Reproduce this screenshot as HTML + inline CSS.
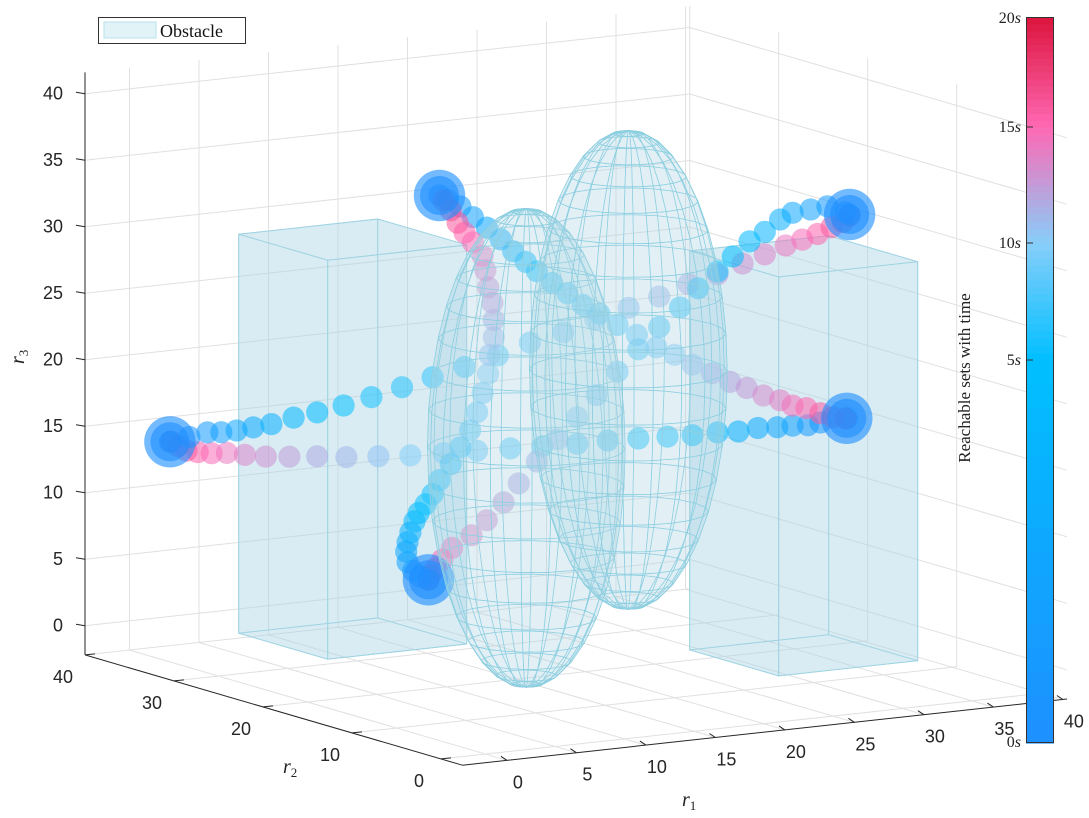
<!DOCTYPE html>
<html><head><meta charset="utf-8"><style>
html,body{margin:0;padding:0;background:#fff;}
svg{display:block;font-family:"Liberation Sans",sans-serif;}
</style></head><body>
<svg id="chart" width="1089" height="818" viewBox="0 0 1089 818" xmlns="http://www.w3.org/2000/svg">
<rect x="0" y="0" width="1089" height="818" fill="#ffffff"/>
<g id="grid"></g>
<g id="boxes"></g>
<g id="dots"></g>
<g id="ells"></g>
<g id="axes"></g>
<g>
<rect x="98.5" y="17.5" width="147" height="26" fill="#fff" stroke="#333" stroke-width="1"/>
<rect x="104" y="22" width="52" height="16" fill="#e2f3f7" stroke="#b5e0ea" stroke-width="1"/>
<text x="160" y="37" font-family="Liberation Serif, serif" font-size="18" fill="#111">Obstacle</text>
</g>
<g id="cbar"></g>
<text x="970" y="378" transform="rotate(-90 970 378)" text-anchor="middle" font-family="Liberation Serif, serif" font-size="17" fill="#222">Reachable sets with time</text>
<text x="682" y="806" font-family="Liberation Serif, serif" font-style="italic" font-size="20" fill="#222">r<tspan font-style="normal" font-size="13" dy="4">1</tspan></text>
<text x="283" y="773" font-family="Liberation Serif, serif" font-style="italic" font-size="20" fill="#222">r<tspan font-style="normal" font-size="13" dy="4">2</tspan></text>
<text x="24" y="364" transform="rotate(-90 24 364)" font-family="Liberation Serif, serif" font-style="italic" font-size="20" fill="#222">r<tspan font-style="normal" font-size="13" dy="4">3</tspan></text>
</svg>
<script>
// ---------- data ----------
const r1Ticks = [0,5,10,15,20,25,30,35,40];
const r2Ticks = [0,10,20,30,40];
const r3Ticks = [0,5,10,15,20,25,30,35,40];
const r1Lim = [-3.2, 40.3];
const r2Lim = [-2.4, 40];
const r3Lim = [-2.2, 41.6];
const cbarTicks = [0,5,10,15,20];
const cbarTickLabels = ['0','5','10','15','20'];
const timeColorStops = [[30,144,255],[0,191,255],[135,206,250],[255,105,180],[220,20,60]];
const trajectoryTimeSpan = [0, 17];

const box1R1 = [3.5, 13.5], box1R2 = [23.2, 33.2], box1R3 = [0, 30];
const box2R1 = [24.1, 34.1], box2R2 = [4.7, 14.7], box2R3 = [0, 30];
const ell1Center = [16, 20.4, 15], ell1Radii = [6, 6, 18];
const ell2Center = [23.4, 20.5, 20], ell2Radii = [6, 6, 18];

const agentDepthR2 = [20, 20, 20, 20, 20];
const startSetRadius = [1.85, 1.4];
const setRadius = 0.8;

const a1R1 = [38.8,36.9,36.0,34.9,33.8,32.4,31.0,29.5,27.7,25.9,23.8,21.6,19.4,16.9,14.6,12.2,9.8,7.4,5.1,2.8,0.7,-1.3,-3.0,-4.5,-5.8,-6.9,-7.9,-8.7,-9.3,-9.8];
const a1R3 = [14.7,14.6,14.5,14.6,14.6,14.7,14.6,14.7,14.7,14.8,14.9,15.0,15.0,15.1,15.2,15.3,15.4,15.5,15.7,15.9,16.2,16.4,16.6,16.9,17.2,17.3,17.5,17.7,18.1,18.5];
const a2R1 = [-9.9,-8.5,-7.2,-6.2,-5.1,-3.9,-2.6,-1.0,0.7,2.6,4.6,6.8,9.0,11.3,13.7,16.0,18.4,20.7,23.1,25.3,27.4,29.5,31.3,32.9,34.4,35.6,36.7,37.7,38.5,39.0];
const a2R3 = [18.5,18.7,18.9,18.8,18.8,18.9,19.0,19.3,19.5,19.8,20.2,20.7,21.2,21.7,22.3,23.0,23.5,24.2,24.8,25.4,26.1,26.6,27.2,27.7,28.2,28.5,28.8,29.2,29.5,29.9];
const a3R1 = [39.0,38.7,37.4,36.2,34.9,34.0,32.9,31.8,30.6,29.5,28.1,26.8,25.3,23.8,22.3,20.8,19.4,18.0,16.5,15.2,14.1,12.9,11.8,10.4,9.7,9.2,8.8,8.7];
const a3R3 = [30.0,30.2,30.8,30.7,30.6,30.2,29.4,28.8,27.8,26.8,25.7,24.4,23.1,21.6,20.1,18.5,17.0,15.5,14.0,12.5,11.2,10.0,9.0,8.2,7.4,6.8,6.3,6.0];
const a4R1 = [9.5,10.1,11.0,11.9,12.9,13.9,14.8,15.7,16.5,17.6,18.7,19.8,21.0,22.3,23.7,25.1,26.4,27.7,29.1,30.4,31.6,32.8,34.0,34.9,35.9,36.9,37.8,38.7];
const a4R3 = [34.8,34.4,33.8,32.9,32.0,31.0,30.0,29.1,28.3,27.3,26.4,25.4,24.6,23.6,22.7,21.6,20.9,20.0,19.2,18.4,17.8,17.1,16.6,16.1,15.8,15.3,14.9,14.7];
const a5R1 = [8.7,8.1,7.6,7.2,7.1,7.2,7.4,7.7,8.0,8.5,9.0,9.5,10.3,11.0,11.7,12.2,12.6,13.0,13.1,13.4,13.4,13.3,13.0,12.8,12.6,11.9,11.3,10.8,10.3,9.8];
const a5R3 = [6.0,6.3,6.8,7.5,8.3,9.0,9.7,10.5,11.1,11.7,12.4,13.4,14.5,15.7,16.9,18.2,19.6,21.0,22.4,23.7,25.0,26.3,27.5,28.8,29.9,31.0,31.8,32.6,33.6,34.4];

// ---------- projection ----------
const SX = 13.9;
function px(r1, r2, r3) {
  return [485.5 + 13.9 * r1 - 8.9 * r2, 724.8 - 1.52 * r1 - 2.6 * r2 - 13.3 * r3];
}
const NS = 'http://www.w3.org/2000/svg';
function mk(tag, attrs, parent) {
  const e = document.createElementNS(NS, tag);
  for (const k in attrs) e.setAttribute(k, attrs[k]);
  parent.appendChild(e);
  return e;
}
function line(a, b, color, w, parent, name) {
  const e = mk('line', {x1:a[0].toFixed(1), y1:a[1].toFixed(1), x2:b[0].toFixed(1), y2:b[1].toFixed(1), stroke:color, 'stroke-width':w}, parent);
  
  
  return e;
}
function poly(pts, fill, fop, stroke, sw, parent, name) {
  const e = mk('polygon', {points: pts.map(p => p[0].toFixed(1) + ',' + p[1].toFixed(1)).join(' '), fill: fill, 'fill-opacity': fop, stroke: stroke, 'stroke-width': sw}, parent);
  
  
  return e;
}
function timeColor(t) {
  const s = Math.max(0, Math.min(3.9999, t / 5));
  const i = Math.floor(s), f = s - i;
  const a = timeColorStops[i], b = timeColorStops[i + 1];
  return 'rgb(' + [0,1,2].map(k => Math.round(a[k] + (b[k] - a[k]) * f)).join(',') + ')';
}

// ---------- grid ----------
const grid = document.getElementById('grid');
const gc = '#e0e0e0';
r1Ticks.forEach(v => {
  line(px(v, r2Lim[0], r3Lim[0]), px(v, r2Lim[1], r3Lim[0]), gc, 1, grid, 'floor-grid-r1');
  line(px(v, r2Lim[1], r3Lim[0]), px(v, r2Lim[1], r3Lim[1]), gc, 1, grid, 'wall-grid-r1');
});
r2Ticks.forEach(v => {
  line(px(r1Lim[0], v, r3Lim[0]), px(r1Lim[1], v, r3Lim[0]), gc, 1, grid, 'floor-grid-r2');
  line(px(r1Lim[1], v, r3Lim[0]), px(r1Lim[1], v, r3Lim[1]), gc, 1, grid, 'wall-grid-r2');
});
r3Ticks.forEach(v => {
  line(px(r1Lim[0], r2Lim[1], v), px(r1Lim[1], r2Lim[1], v), gc, 1, grid, 'wall-grid-r3');
  line(px(r1Lim[1], r2Lim[1], v), px(r1Lim[1], r2Lim[0], v), gc, 1, grid, 'wall-grid-r3');
});

// ---------- boxes ----------
const boxesG = document.getElementById('boxes');
function drawBox(X, Y, Z, name) {
  const v = (i, j, k) => px(X[i], Y[j], Z[k]);
  const faces = [
    [v(0,0,0), v(1,0,0), v(1,1,0), v(0,1,0)],
    [v(0,0,1), v(1,0,1), v(1,1,1), v(0,1,1)],
    [v(0,1,0), v(1,1,0), v(1,1,1), v(0,1,1)],
    [v(1,0,0), v(1,1,0), v(1,1,1), v(1,0,1)],
    [v(0,0,0), v(0,1,0), v(0,1,1), v(0,0,1)],
    [v(0,0,0), v(1,0,0), v(1,0,1), v(0,0,1)]
  ];
  faces.forEach(f => poly(f, '#add8e6', 0.27, '#9fd3e2', 0.9, boxesG, name));
}
drawBox(box1R1, box1R2, box1R3, 'obstacle-box-1');
drawBox(box2R1, box2R2, box2R3, 'obstacle-box-2');

// ---------- trajectories ----------
const dotsG = document.getElementById('dots');
const agents = [[a1R1, a1R3], [a2R1, a2R3], [a3R1, a3R3], [a4R1, a4R3], [a5R1, a5R3]];
agents.forEach((ag, k) => {
  const r1 = ag[0], r3 = ag[1], n = r1.length, d = agentDepthR2[k];
  for (let i = 0; i < n; i++) {
    const t = trajectoryTimeSpan[0] + (trajectoryTimeSpan[1] - trajectoryTimeSpan[0]) * i / (n - 1);
    const p = px(r1[i], d, r3[i]);
    const c = mk('circle', {cx: p[0].toFixed(1), cy: p[1].toFixed(1), r: (setRadius * SX).toFixed(1), fill: timeColor(t), 'fill-opacity': 0.56}, dotsG);
    
    
  }
});
agents.forEach((ag, k) => {
  const p = px(ag[0][0], agentDepthR2[k], ag[1][0]);
  startSetRadius.forEach(rr => {
    const c = mk('circle', {cx: p[0].toFixed(1), cy: p[1].toFixed(1), r: (rr * SX).toFixed(1), fill: timeColor(0), 'fill-opacity': 0.62}, dotsG);
    
    
  });
});

// ---------- ellipsoids ----------
const ellG = document.getElementById('ells');
function drawEll(C, R, name) {
  const N = 20, pts = [];
  for (let i = 0; i <= N; i++) {
    const ph = -Math.PI / 2 + Math.PI * i / N, row = [];
    for (let j = 0; j <= N; j++) {
      const th = 2 * Math.PI * j / N;
      row.push(px(C[0] + R[0] * Math.cos(ph) * Math.cos(th), C[1] + R[1] * Math.cos(ph) * Math.sin(th), C[2] + R[2] * Math.sin(ph)));
    }
    pts.push(row);
  }
  for (let i = 0; i < N; i++) for (let j = 0; j < N; j++) {
    poly([pts[i][j], pts[i][j+1], pts[i+1][j+1], pts[i+1][j]], '#add8e6', 0.2, '#8ccfe0', 0.7, ellG, name);
  }
}
drawEll(ell1Center, ell1Radii, 'obstacle-ellipsoid-1');
drawEll(ell2Center, ell2Radii, 'obstacle-ellipsoid-2');

// ---------- axes ----------
const axG = document.getElementById('axes');
const ac = '#262626';
line(px(r1Lim[0], r2Lim[1], r3Lim[0]), px(r1Lim[0], r2Lim[1], r3Lim[1]), ac, 1, axG, 'z-axis-line');
line(px(r1Lim[0], r2Lim[1], r3Lim[0]), px(r1Lim[0], r2Lim[0], r3Lim[0]), ac, 1, axG, 'y-axis-line');
line(px(r1Lim[0], r2Lim[0], r3Lim[0]), px(r1Lim[1], r2Lim[0], r3Lim[0]), ac, 1, axG, 'x-axis-line');
function label(x, y, txt, anchor, name) {
  const e = mk('text', {x: x.toFixed(1), y: y.toFixed(1), 'text-anchor': anchor, 'font-size': 18, fill: ac}, axG);
  e.textContent = txt;
  
  
}
r3Ticks.forEach(v => {
  const p = px(r1Lim[0], r2Lim[1], v);
  line(p, [p[0] - 9, p[1] - 1.5], ac, 1, axG, 'z-tick');
  label(p[0] - 22, p[1] + 6, String(v), 'end', 'z-tick-label');
});
r1Ticks.forEach(v => {
  const p = px(v, r2Lim[0], r3Lim[0]);
  line(p, [p[0] - 6, p[1] - 4], ac, 1, axG, 'x-tick');
  label(p[0] + 11, p[1] + 28, String(v), 'middle', 'x-tick-label');
});
r2Ticks.forEach(v => {
  const p = px(r1Lim[0], v, r3Lim[0]);
  line(p, [p[0] + 10, p[1] - 1], ac, 1, axG, 'y-tick');
  label(p[0] - 22, p[1] + 28, String(v), 'middle', 'y-tick-label');
});

// ---------- colorbar ----------
const cb = document.getElementById('cbar');
const cbX = 1026, cbW = 28;
const cbTickY = [743, 360, 243, 127, 17];
function cbY(t) {
  const s = Math.max(0, Math.min(3.9999, t / 5)), i = Math.floor(s), f = s - i;
  return cbTickY[i] + (cbTickY[i + 1] - cbTickY[i]) * f;
}
const steps = 64;
for (let i = 0; i < steps; i++) {
  const t0 = 20 * i / steps, t1 = 20 * (i + 1) / steps;
  const y0 = cbY(t1), y1 = cbY(t0);
  const r = mk('rect', {x: cbX, y: y0.toFixed(1), width: cbW, height: (y1 - y0 + 0.6).toFixed(1), fill: timeColor((t0 + t1) / 2)}, cb);
  
  
}
const cbBorder = mk('rect', {x: cbX + 0.5, y: 17.5, width: cbW - 1, height: 725, fill: 'none', stroke: '#333', 'stroke-width': 1}, cb);


cbarTicks.forEach((v, i) => {
  const y = cbY(v);
  if (v > 0 && v < 20) line([cbX, y], [cbX + 7, y], '#333', 1, cb, 'colorbar-tick');
  const ty = v === 20 ? y + 6 : (v === 0 ? y + 4 : y + 5);
  const e = mk('text', {x: 1021, y: ty, 'text-anchor': 'end', 'font-family': 'Liberation Serif, serif', 'font-size': 16, fill: '#222'}, cb);
  
  
  e.textContent = cbarTickLabels[i];
  const s = mk('tspan', {'font-style': 'italic'}, e);
  s.textContent = 's';
});
</script>
</body></html>
